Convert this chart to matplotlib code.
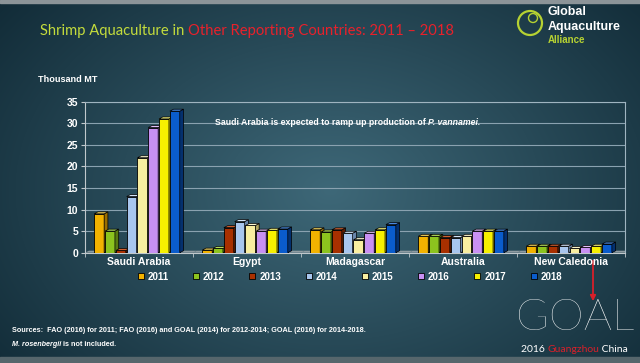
import numpy as np
import matplotlib
matplotlib.use("Agg")
import matplotlib.pyplot as plt
from matplotlib.patches import Polygon, Circle, Rectangle
from matplotlib.lines import Line2D

# ----------------------------
# Data (thousand MT)
# ----------------------------
countries = ["Saudi Arabia", "Egypt", "Madagascar", "Australia", "New Caledonia"]
years = ["2011", "2012", "2013", "2014", "2015", "2016", "2017", "2018"]

v2011 = [9.0, 0.6, 5.3, 3.8, 1.5]
v2012 = [5.0, 1.0, 4.8, 3.8, 1.5]
v2013 = [0.5, 5.8, 5.3, 3.5, 1.5]
v2014 = [13.0, 7.2, 4.5, 3.5, 1.5]
v2015 = [22.0, 6.3, 3.0, 3.8, 1.0]
v2016 = [29.0, 5.0, 4.5, 5.0, 1.2]
v2017 = [31.0, 5.2, 5.3, 5.0, 1.5]
v2018 = [32.8, 5.5, 6.5, 5.0, 2.0]
series = [v2011, v2012, v2013, v2014, v2015, v2016, v2017, v2018]

yticks = [0, 5, 10, 15, 20, 25, 30, 35]

# ----------------------------
# Style
# ----------------------------
front = ["#f2b200", "#8cc31e", "#a83000", "#a8c6ee", "#f8eea0",
         "#c890f2", "#f6f000", "#0a5ccc"]
side = ["#9a6e00", "#587a10", "#5e1a00", "#6a86aa", "#b0a660",
        "#8458a8", "#a8a000", "#04306e"]
top = ["#f8d860", "#b8e060", "#d06030", "#d4e4f8", "#fcf8d0",
       "#e0c0f8", "#fcfa80", "#4a8ae0"]

plt.rcParams["font.family"] = ["Liberation Sans", "DejaVu Sans"]
lato = ["Lato", "DejaVu Sans"]
white = "#ffffff"

fig = plt.figure(figsize=(6.4, 3.63), dpi=100)

# background gradient
bg = fig.add_axes([0, 0, 1, 1], zorder=-10)
yy, xx = np.mgrid[0:363, 0:640]
r = np.sqrt(((xx - 330) / 420.0) ** 2 + ((yy - 190) / 300.0) ** 2)
r = np.clip(r, 0, 1)
c0 = np.array([0x3e, 0x68, 0x78]) / 255.0
c1 = np.array([0x12, 0x2c, 0x38]) / 255.0
img = c0[None, None, :] * (1 - r[..., None]) + c1[None, None, :] * r[..., None]
bg.imshow(img, aspect="auto", extent=[0, 640, 363, 0])
bg.add_patch(Rectangle((0, 0), 640, 3, color="#8c9498"))
bg.add_patch(Rectangle((0, 357), 640, 6, color="#56666c"))
bg.set_xlim(0, 640)
bg.set_ylim(363, 0)
bg.axis("off")

# ----------------------------
# Bar chart
# ----------------------------
ax = fig.add_axes([0.133, 0.304, 0.844, 0.416])
ax.patch.set_alpha(0)

w = 0.092
gap = 0.1
dx = 0.035
dy = 0.45
x = np.arange(len(countries))

for gi in range(len(countries)):
    # grey floor strip
    ax.add_patch(Polygon([(gi - 0.5, 0), (gi - 0.5 + dx, dy), (gi + 0.5 + dx, dy), (gi + 0.5, 0)],
                         closed=True, fc="#8f9ca2", ec="none", zorder=2))

for i, vals in enumerate(series):
    xs = x + (i - 3.5) * gap - 0.02
    ax.bar(xs, vals, width=w, color=front[i], edgecolor="black", linewidth=0.6, zorder=3 + i)
    for xc, v in zip(xs, vals):
        xl, xr = xc - w / 2, xc + w / 2
        ax.add_patch(Polygon([(xr, 0), (xr + dx, dy), (xr + dx, v + dy), (xr, v)],
                             closed=True, fc=side[i], ec="black", lw=0.5, zorder=3 + i))
        ax.add_patch(Polygon([(xl, v), (xl + dx, v + dy), (xr + dx, v + dy), (xr, v)],
                             closed=True, fc=top[i], ec="black", lw=0.5, zorder=3 + i))

ax.set_xlim(-0.5, len(countries) - 0.5)
ax.set_ylim(0, 35)
ax.set_yticks(yticks)
ax.set_yticklabels([str(t) for t in yticks], color=white, fontsize=7.5, fontweight="bold")
ax.set_xticks(x)
ax.set_xticklabels(countries, color=white, fontsize=7.5, fontweight="bold")
ax.set_xticks(np.arange(len(countries) + 1) - 0.5, minor=True)
ax.tick_params(axis="x", which="major", length=0, pad=3)
ax.tick_params(axis="x", which="minor", length=3, color="#c0c8cc")
ax.tick_params(axis="y", length=3, color="#c0c8cc", pad=2)
ax.grid(axis="y", color="#8aa2b0", linewidth=0.8, zorder=0)
for s in ["top", "right"]:
    ax.spines[s].set_color("#9fb4c0")
    ax.spines[s].set_linewidth(0.8)
ax.spines["left"].set_color("#c0c8cc")
ax.spines["bottom"].set_color("#c0c8cc")

t_note = ax.text(0.24, 0.86, "Saudi Arabia is expected to ramp up production of ",
                 transform=ax.transAxes, color=white, fontsize=6.3, fontweight="bold",
                 va="center")
fig.canvas.draw()
bb = t_note.get_window_extent()
fig.text(bb.x1 / 640.0, (bb.y0 + bb.y1) / 2 / 363.0, "P. vannamei.", color=white,
         fontsize=6.3, fontweight="bold", style="italic", va="center")

# ----------------------------
# Legend
# ----------------------------
handles = [Line2D([], [], marker="s", ls="none", markersize=4.5, markerfacecolor=front[i],
                  markeredgecolor="black", markeredgewidth=0.6) for i in range(len(years))]
leg = fig.legend(handles, years, loc="center", bbox_to_anchor=(0.545, 0.238), ncol=8,
                 frameon=False, fontsize=7, handletextpad=0.2, columnspacing=2.35,
                 handlelength=1.0)
for t in leg.get_texts():
    t.set_color(white)
    t.set_fontweight("bold")

# ----------------------------
# Titles and footer
# ----------------------------
t1 = fig.text(40 / 640, 1 - 31 / 363, "Shrimp Aquaculture in ", color="#c4dc3c",
              fontsize=10.6, family=lato, va="center")
fig.canvas.draw()
bb = t1.get_window_extent()
fig.text(bb.x1 / 640, 1 - 31 / 363, "Other Reporting Countries: 2011 \u2013 2018", color="#e8212b",
         fontsize=10.6, family=lato, va="center")

fig.text(38 / 640, 1 - 80 / 363, "Thousand MT", color=white, fontsize=6.6, fontweight="bold",
         va="center")

fig.text(12 / 640, 1 - 331 / 363,
         "Sources:  FAO (2016) for 2011; FAO (2016) and GOAL (2014) for 2012-2014; GOAL (2016) for 2014-2018.",
         color=white, fontsize=5.2, fontweight="bold", va="center")
t2 = fig.text(12 / 640, 1 - 345 / 363, "M. rosenbergii", color=white, fontsize=5.2,
              fontweight="bold", style="italic", va="center")
fig.canvas.draw()
bb = t2.get_window_extent()
fig.text(bb.x1 / 640, 1 - 345 / 363, " is not included.", color=white, fontsize=5.2,
         fontweight="bold", va="center")

# GAA logo
bg.add_patch(Circle((530, 23), 12, fill=False, ec="#b6d232", lw=1.6))
bg.add_patch(Circle((533, 18), 4.5, fill=False, ec="#b6d232", lw=1.0))
bg.text(548, 12, "Global", color=white, fontsize=9, fontweight="bold", va="center")
bg.text(548, 27, "Aquaculture", color=white, fontsize=9, fontweight="bold", va="center")
bg.text(548, 40, "Alliance", color="#b6d232", fontsize=7, fontweight="bold", va="center")

# GOAL logo
bg.text(575, 319, "GOAL", color=white, fontsize=32, family=lato,
        fontweight="light", ha="center", va="center")
bg.annotate("", xy=(593, 304), xytext=(593, 258),
            arrowprops=dict(arrowstyle="-|>", color="#d8202a", lw=1.3, mutation_scale=8))
t3 = bg.text(521, 350, "2016 ", color=white, fontsize=7.5, family=lato, va="center")
fig.canvas.draw()
bb = t3.get_window_extent()
inv = bg.transData.inverted()
xg = inv.transform((bb.x1, 0))[0]
t4 = bg.text(xg, 350, "Guangzhou", color="#d8202a", fontsize=7.5, family=lato, va="center")
fig.canvas.draw()
bb = t4.get_window_extent()
xg = inv.transform((bb.x1, 0))[0]
bg.text(xg, 350, " China", color=white, fontsize=7.5, family=lato, va="center")

fig.savefig("out.png", dpi=100)
